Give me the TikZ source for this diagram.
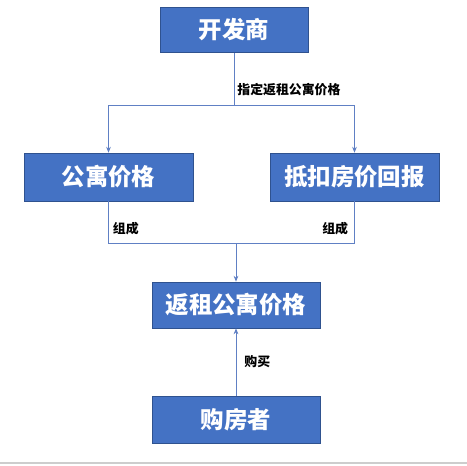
\documentclass[tikz,border=0pt]{standalone}
\usepackage{fontspec}
\usepackage{xcolor}
\usepackage{tikz}
\usetikzlibrary{positioning,arrows.meta,calc}
\newfontfamily\cjk{Noto Sans CJK SC}[BoldFont={Noto Sans CJK SC Black}]
\definecolor{colorbox}    {RGB}{ 68,114,196}
\definecolor{colorborder} {RGB}{ 47, 82,143}
\definecolor{colorline}   {RGB}{ 96,128,196}
\definecolor{colorrule}   {RGB}{205,205,205}

\begin{document}
\begin{tikzpicture}[
    x=0.03cm, y=-0.03cm,
    box/.style={draw=colorborder,fill=colorbox,line width=0.6pt,text=white,
        font={\cjk\bfseries\fontsize{20}{24}\selectfont},inner sep=0pt},
    key/.style={text=black,font={\cjk\bfseries\fontsize{11}{13}\selectfont},inner sep=1pt},
    link/.style={colorline,line width=0.7pt},
    arrow/.style={link,-{Stealth[length=5pt,width=4pt]}},
]
    \useasboundingbox (0,0) rectangle (467,465);

    % Developer
    \node[box,minimum width=4.44cm,minimum height=1.35cm] at (234,30) (dev) {开发商};

    % Apartment price and deduction
    \node[box,minimum width=5.07cm,minimum height=1.44cm] at (108.5,177) (apt) {公寓价格};
    \node[box,minimum width=5.07cm,minimum height=1.44cm] at (354.5,177) (deduct) {抵扣房价回报};

    % Leaseback price
    \node[box,minimum width=5.04cm,minimum height=1.38cm] at (236,305) (lease) {返租公寓价格};

    % Buyer
    \node[box,minimum width=5.04cm,minimum height=1.41cm] at (236,419.5) (buyer) {购房者};

    % Arrows
    \coordinate (split) at (dev.south |- 0,105);
    \coordinate (join) at (lease.north |- 0,243);
    \draw[link] (dev.south) -- (split); % developer down
    \draw[arrow] (split) -| (apt.north); % to apartment price
    \draw[arrow] (split) -| (deduct.north); % to deduction
    \draw[link] (apt.south) |- (join); % apartment price to join
    \draw[link] (deduct.south) |- (join); % deduction to join
    \draw[arrow] (join) -- (lease.north); % join to leaseback price
    \draw[arrow] (buyer.north) -- (lease.south); % buyer to leaseback price

    % Labels
    \node[key,anchor=west] at ($(split)+(2,-15)$) (fix) {指定返租公寓价格};
    \node[key,anchor=west] at ($(apt.south)+(3,27)$) (made1) {组成};
    \node[key,anchor=east] at ($(deduct.south)+(-5,27)$) (made2) {组成};
    \node[key,anchor=west] at ($(buyer.north)+(7,-34)$) (buy) {购买};

    % Bottom rule
    \draw[colorrule,line width=1.2pt] (0,463) -- (467,463);
\end{tikzpicture}
\end{document}
